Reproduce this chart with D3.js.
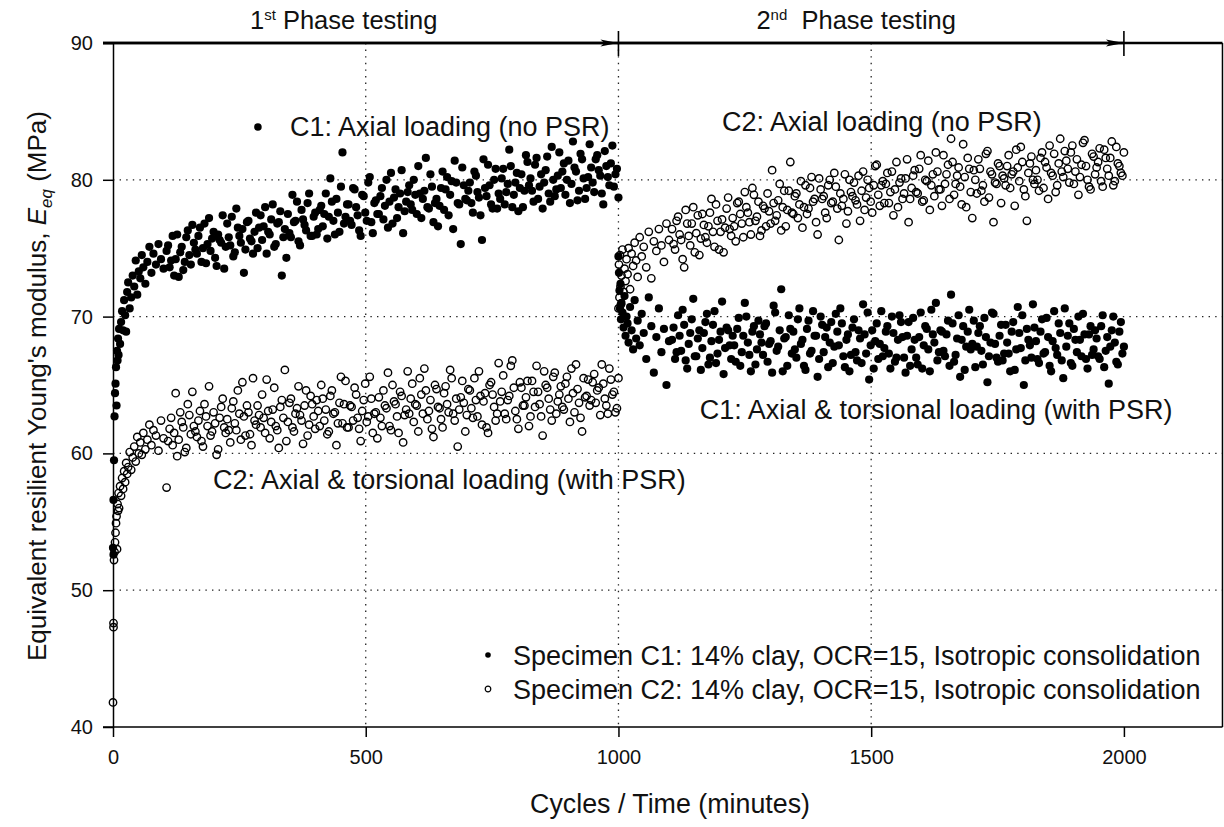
<!DOCTYPE html>
<html>
<head>
<meta charset="utf-8">
<script src="https://cdn.jsdelivr.net/npm/d3@7"></script>
<style>
  body { margin: 0; background: #fff; }
  svg text { font-family: "Liberation Sans", Arial, sans-serif; fill: #111; }
</style>
</head>
<body>
<div class="main"></div>
<script>
//// Data
const xTicks = [0, 500, 1000, 1500, 2000];
const yTicks = [40, 50, 60, 70, 80, 90];
const xGrid = [500, 1000, 1500];
const yGrid = [50, 60, 70, 80];

// sampling cycles (minutes), shared by both specimens in each phase
const cyclesPhase1 = [0,1,1,2,3,4,5,6,7,8, 9,10,11,12,14,16,18,20,22,24,
  26,28,30,33,36,39,42,45,48,51, 54,57,60,64,68,72,76,80,85,90, 95,100,
  106,112,118,124,130,136,142,148,154,160, 166,172,178,184,190,196,202,208,214,220,
  226,232,238,244,250,256,262,268,274,280, 286,292,298,304,310,316,322,328,334,340,
  346,352,358,364,370,376,382,388,394,400, 406,412,418,424,430,436,442,448,454,460,
  466,472,478,484,490,496,502,508,514,520, 526,532,538,544,550,556,562,568,574,580,
  586,592,598,604,610,616,622,628,634,640, 646,652,658,664,670,676,682,688,694,700,
  706,712,718,724,730,736,742,748,754,760, 766,772,778,784,790,796,802,808,814,820,
  826,832,838,844,850,856,862,868,874,880, 886,892,898,904,910,916,922,928,934,940,
  946,952,958,964,970,976,982,988,994,1000];

const cyclesPhase1b = [109,115,121,127,133,139,145,151,157,163, 169,175,181,187,193,199,205,211,217,223,
  229,235,241,247,253,259,265,271,277,283, 289,295,301,307,313,319,325,331,337,343,
  349,355,361,367,373,379,385,391,397,403, 409,415,421,427,433,439,445,451,457,463,
  469,475,481,487,493,499,505,511,517,523, 529,535,541,547,553,559,565,571,577,583,
  589,595,601,607,613,619,625,631,637,643, 649,655,661,667,673,679,685,691,697,703,
  709,715,721,727,733,739,745,751,757,763, 769,775,781,787,793,799,805,811,817,823,
  829,835,841,847,853,859,865,871,877,883, 889,895,901,907,913,919,925,931,937,943,
  949,955,961,967,973,979,985,991,997];

const cyclesPhase2 = [1000,1001,1002,1003,1004,1005,1006,1008,1010,1012,
  1014,1016,1018,1020,1023,1026,1029,1032,1035,1038, 1042,1046,1050,1055,1060,1065,1070,1075,1080,1085,
  1090,1095,1100,
  1106,1112,1118,1124,1130,1136,1142,1148,1154,1160, 1166,1172,1178,1184,1190,1196,1202,1208,1214,1220,
  1226,1232,1238,1244,1250,1256,1262,1268,1274,1280, 1286,1292,1298,1304,1310,1316,1322,1328,1334,1340,
  1346,1352,1358,1364,1370,1376,1382,1388,1394,1400, 1406,1412,1418,1424,1430,1436,1442,1448,1454,1460,
  1466,1472,1478,1484,1490,1496,1502,1508,1514,1520, 1526,1532,1538,1544,1550,1556,1562,1568,1574,1580,
  1586,1592,1598,1604,1610,1616,1622,1628,1634,1640, 1646,1652,1658,1664,1670,1676,1682,1688,1694,1700,
  1706,1712,1718,1724,1730,1736,1742,1748,1754,1760, 1766,1772,1778,1784,1790,1796,1802,1808,1814,1820,
  1826,1832,1838,1844,1850,1856,1862,1868,1874,1880, 1886,1892,1898,1904,1910,1916,1922,1928,1934,1940,
  1946,1952,1958,1964,1970,1976,1982,1988,1994,2000];

const cyclesPhase2b = [1109,1115,1121,1127,1133,1139,1145,1151,1157,1163, 1169,1175,1181,1187,1193,1199,1205,1211,1217,1223,
  1229,1235,1241,1247,1253,1259,1265,1271,1277,1283, 1289,1295,1301,1307,1313,1319,1325,1331,1337,1343,
  1349,1355,1361,1367,1373,1379,1385,1391,1397,1403, 1409,1415,1421,1427,1433,1439,1445,1451,1457,1463,
  1469,1475,1481,1487,1493,1499,1505,1511,1517,1523, 1529,1535,1541,1547,1553,1559,1565,1571,1577,1583,
  1589,1595,1601,1607,1613,1619,1625,1631,1637,1643, 1649,1655,1661,1667,1673,1679,1685,1691,1697,1703,
  1709,1715,1721,1727,1733,1739,1745,1751,1757,1763, 1769,1775,1781,1787,1793,1799,1805,1811,1817,1823,
  1829,1835,1841,1847,1853,1859,1865,1871,1877,1883, 1889,1895,1901,1907,1913,1919,1925,1931,1937,1943,
  1949,1955,1961,1967,1973,1979,1985,1991,1997];

// Specimen C1 (filled): axial loading in phase 1, axial + torsional in phase 2
const c1Phase1 = [53.1,52.6,56.6,59.5,62.7,64.4,65.1,66.3,63.5,67.5, 66.8,68.4,67.2,69.1,68.0,69.6,70.4,69.0,71.2,70.1,
  68.9,71.8,72.5,70.6,71.4,73.0,72.2,74.1,71.6,73.3, 72.8,74.5,73.6,72.4,74.0,75.1,73.2,74.6,73.8,75.3, 74.2,73.5,
  74.8,73.6,75.9,74.2,72.9,75.1,74.0,76.3,73.8,75.4, 74.6,76.5,75.0,73.9,77.2,75.7,74.3,76.0,75.4,73.5,
  76.8,75.2,74.4,77.9,75.9,76.4,74.9,77.0,75.5,76.2, 75.0,77.4,76.6,74.6,76.0,78.2,75.3,76.9,73.0,76.4,
  77.5,75.8,76.9,78.4,75.2,77.1,76.3,79.0,75.9,77.6, 76.4,78.1,77.5,75.7,80.1,77.0,78.6,76.2,82.0,77.3,
  78.2,76.7,79.3,77.4,75.9,78.8,77.0,80.2,76.1,78.5, 77.5,79.4,78.1,76.5,80.5,78.7,77.2,79.0,76.1,78.4,
  79.6,77.8,78.9,81.0,77.2,79.2,78.0,80.4,76.9,78.6, 78.1,80.6,79.3,77.4,79.9,81.4,78.3,75.3,79.6,78.5,
  79.8,77.6,80.3,78.7,75.6,79.4,81.1,78.2,80.0,77.9, 78.6,80.8,79.1,82.2,78.0,79.8,77.7,80.4,79.2,81.3,
  80.1,78.4,81.6,79.5,77.9,80.7,79.0,82.4,78.8,80.3, 79.4,81.2,80.0,78.3,82.8,80.6,79.2,81.5,78.6,80.2,
  80.9,79.1,81.8,80.3,78.2,81.0,79.6,82.5,80.4,78.7];

const c1Phase1b = [75.2,74.1,73.0,76.0,74.7,73.4,75.8,74.5,76.7,74.9, 75.9,74.0,76.8,75.3,74.8,76.2,73.7,75.6,77.4,75.1,
  75.8,77.3,74.7,76.5,75.4,73.2,76.9,75.7,74.6,77.6, 76.5,75.6,78.0,76.2,77.1,75.1,76.8,77.7,75.8,74.3,
  76.1,78.9,77.0,75.5,77.8,76.7,78.3,75.9,77.3,76.0, 77.8,76.6,79.0,77.3,78.4,76.0,77.6,79.5,76.8,78.2,
  77.0,79.4,78.0,76.3,78.9,77.6,79.8,76.9,78.3,77.5, 78.8,77.1,80.0,78.4,76.8,79.3,78.0,80.7,77.7,79.1,
  78.2,80.0,77.5,79.0,78.6,81.6,77.9,79.5,78.3,76.6, 79.4,77.8,80.2,78.9,76.4,79.8,78.2,80.9,78.6,79.2,
  78.3,80.6,79.1,77.4,81.5,78.8,79.6,77.9,80.8,79.0, 80.1,78.2,79.7,81.0,78.9,80.5,79.4,78.0,81.8,79.6,
  79.2,81.1,78.6,80.4,79.8,81.7,78.4,80.0,79.3,82.0, 80.6,78.9,81.4,79.7,80.9,78.5,81.9,80.1,79.4,82.6,
  79.8,81.5,80.7,79.0,82.1,80.2,81.2,79.5,80.8];

const c1Phase2 = [74.4,73.2,71.9,70.6,72.4,69.8,71.0,70.3,69.2,71.5, 68.6,70.0,69.5,68.1,70.7,69.0,67.6,71.2,68.4,69.7,
  67.9,70.2,68.8,66.9,71.4,69.3,65.9,68.5,70.6,67.4, 69.1,65.0,68.2,
  68.3,66.9,70.1,67.5,69.4,66.2,68.8,71.3,67.1,69.0, 67.7,69.6,66.5,68.2,70.4,67.3,68.9,65.8,69.2,67.9,
  68.6,66.7,69.9,67.4,71.0,68.1,66.0,69.3,67.6,68.7, 67.2,69.5,68.0,65.9,70.3,67.8,72.0,68.4,66.4,69.1,
  68.9,67.0,70.6,68.3,66.1,69.7,67.5,68.6,65.6,70.0, 67.4,69.2,68.1,66.6,70.2,67.9,69.5,66.3,68.7,67.2,
  69.8,66.8,68.4,70.9,67.3,65.4,69.0,68.2,66.9,70.4, 67.7,69.3,66.2,68.8,67.0,70.1,68.5,65.9,69.6,67.6,
  68.3,66.5,70.3,67.9,69.1,66.0,68.7,71.0,67.4,68.9, 67.1,69.7,71.6,66.7,68.4,65.6,69.3,67.8,70.5,68.0,
  66.3,68.8,67.5,69.9,65.2,68.1,70.2,67.0,68.6,66.8, 69.4,67.3,68.9,66.1,70.7,67.7,65.0,69.1,67.9,70.9,
  68.2,66.6,69.8,67.4,68.5,66.0,70.4,67.2,68.8,65.5, 67.8,69.5,66.4,68.3,70.0,67.1,68.7,66.2,69.3,67.6,
  68.4,66.9,70.1,67.5,65.1,69.0,68.1,66.5,69.6,67.8];

const c1Phase2b = [69.2,67.4,68.6,70.5,66.8,68.0,69.8,67.1,68.4,66.1, 68.8,70.2,67.0,69.4,66.6,68.3,71.1,67.7,69.0,66.9,
  67.9,69.1,66.4,68.6,70.0,67.2,68.9,66.5,69.7,68.1, 69.3,66.7,68.2,70.8,67.5,69.0,66.0,68.5,70.1,67.3,
  67.6,69.8,68.0,66.4,69.1,67.3,70.4,68.6,66.9,69.4, 68.5,66.3,69.6,67.8,68.9,70.6,67.1,68.3,66.0,69.2,
  67.4,69.0,66.6,68.7,70.3,67.9,66.2,69.5,68.0,67.1, 68.9,67.3,70.0,66.7,68.3,69.6,67.0,68.6,66.4,69.9,
  67.0,68.5,66.2,69.3,67.6,70.5,68.1,66.8,69.0,67.5, 68.7,66.4,69.5,67.2,70.1,68.3,66.1,68.9,67.6,69.7,
  67.8,69.3,66.5,68.5,67.1,70.3,68.0,66.7,69.4,67.3, 68.1,66.0,69.6,67.6,68.8,70.1,66.8,68.3,67.0,69.2,
  66.9,68.9,67.3,69.9,66.4,68.2,67.7,69.5,66.8,70.6, 68.6,66.6,69.1,67.4,68.3,70.2,66.9,68.7,67.2,69.0,
  67.1,69.3,66.3,68.5,67.8,70.0,66.7,68.9,67.3];

// Specimen C2 (open): axial + torsional in phase 1, axial loading in phase 2
const c2Phase1 = [41.8,47.3,47.6,52.2,52.8,53.5,54.2,54.9,55.4,53.0, 56.3,55.8,57.1,56.0,57.6,56.9,58.2,57.4,58.7,57.9,
  59.3,58.5,59.0,60.1,58.8,59.7,60.5,59.4,61.2,60.0, 60.8,59.9,61.5,60.3,61.0,62.1,60.6,61.7,61.3,60.2, 62.4,61.1,
  57.5,61.8,60.6,64.4,61.0,62.3,60.1,63.6,61.4,62.0, 61.2,63.1,60.5,62.7,64.9,61.6,62.2,60.3,63.4,61.9,
  62.5,60.8,63.8,61.7,62.9,65.2,61.3,63.0,60.6,62.4, 63.5,61.9,62.6,65.4,61.1,63.2,62.0,60.4,63.9,66.1,
  62.3,64.0,61.6,63.3,62.8,60.7,64.6,62.1,63.6,61.8, 63.1,65.0,62.4,61.4,64.2,62.9,60.6,63.7,62.2,65.3,
  61.9,63.4,64.8,62.6,60.9,63.9,62.3,65.6,61.5,63.0, 64.1,62.0,63.5,65.9,61.7,63.8,62.7,64.5,60.8,63.2,
  62.9,65.1,63.6,61.6,64.3,66.2,62.5,63.9,61.2,64.7, 63.3,61.9,64.9,63.0,65.5,62.4,60.5,64.1,63.7,62.8,
  64.6,62.6,63.9,66.0,62.1,64.4,61.5,65.2,63.4,62.9, 63.8,65.7,62.5,64.2,66.8,63.1,61.8,64.8,63.5,65.3,
  62.7,64.5,66.4,63.6,61.3,65.0,64.0,62.4,65.9,63.8, 64.9,63.2,65.6,62.3,64.4,66.5,63.7,61.6,64.1,65.4,
  63.9,65.8,64.6,62.8,65.1,63.5,66.2,64.3,63.0,65.5];

const c2Phase1b = [60.9,62.6,61.5,59.8,63.0,61.9,60.4,62.8,64.5,61.6, 62.4,60.9,63.6,62.0,61.3,63.0,59.9,62.6,64.0,61.5,
  61.7,63.3,62.2,64.6,61.0,62.7,63.5,61.4,65.5,62.1, 62.8,64.3,61.5,63.1,62.3,64.8,61.7,63.4,62.6,60.9,
  63.7,61.9,62.9,64.9,62.4,63.5,61.3,64.2,62.7,63.9, 62.0,64.0,63.2,61.6,64.6,63.0,62.2,65.6,63.6,61.9,
  63.5,62.4,64.3,61.8,63.1,65.1,62.7,64.0,62.9,61.1, 62.6,64.6,63.3,62.0,65.0,63.6,61.5,64.2,62.8,66.0,
  64.0,62.3,63.5,65.5,62.9,64.6,63.1,61.8,65.0,63.4, 62.5,64.4,63.6,66.1,62.9,64.0,63.2,65.3,61.6,64.7,
  63.3,65.5,62.7,64.2,63.8,61.9,65.0,64.3,62.4,66.6, 64.5,62.9,63.9,66.4,64.8,62.5,65.2,63.5,64.1,62.0,
  65.3,63.4,64.5,62.7,66.0,64.8,63.2,65.6,62.9,64.3, 63.4,65.1,64.0,66.2,63.0,64.7,62.6,65.5,64.2,63.5,
  65.2,63.7,64.8,66.5,64.0,62.9,65.4,64.5,63.3];

const c2Phase2 = [70.6,73.8,71.4,74.5,72.2,70.9,73.0,74.9,71.8,73.5, 72.6,74.2,73.1,75.0,72.0,74.6,73.7,75.4,74.1,72.9,
  75.8,74.4,75.1,73.6,76.2,72.8,75.5,74.8,76.4,75.2, 74.0,76.8,75.6,
  76.4,74.9,77.3,75.6,73.6,76.8,75.2,78.0,76.1,74.5, 77.5,75.8,76.6,78.6,75.1,77.0,76.2,74.7,77.9,76.4,
  77.2,75.5,78.4,76.8,79.1,77.6,76.0,78.9,77.3,75.9, 78.1,76.6,77.7,80.7,77.0,78.5,76.3,79.2,77.8,81.3,
  77.5,79.0,78.2,76.5,79.6,77.9,80.2,78.6,76.0,79.3, 78.8,77.2,80.0,78.4,79.5,75.6,78.1,80.4,77.7,79.1,
  79.8,78.2,77.0,80.6,78.7,79.4,77.6,81.0,78.9,79.6, 78.3,80.5,79.1,77.4,81.3,79.8,78.6,80.1,76.9,79.4,
  80.7,79.0,81.8,78.5,79.9,77.8,80.4,82.0,79.3,78.1, 79.7,81.1,83.0,78.9,80.3,79.5,82.6,78.0,80.8,77.2,
  80.0,81.5,79.2,78.4,82.1,80.6,76.9,79.7,81.0,80.3, 79.6,81.8,80.4,78.1,80.9,82.4,79.3,77.0,81.2,80.0,
  80.7,79.2,82.0,81.3,78.6,80.5,81.9,79.6,83.0,80.2, 81.4,79.8,82.5,80.6,78.9,81.1,82.9,80.0,79.3,81.7,
  80.9,82.3,79.5,81.6,80.3,82.8,79.9,81.2,80.5,82.0];

const c2Phase2b = [75.3,77.0,76.0,74.2,77.8,75.9,76.8,74.7,77.4,75.7, 76.7,75.4,77.6,76.2,78.2,74.9,77.1,76.5,78.7,75.9,
  76.6,78.3,77.5,75.8,78.0,76.9,79.4,77.0,78.4,76.3, 77.9,79.0,76.8,78.3,77.4,79.7,78.0,76.6,79.2,77.6,
  78.8,77.2,79.9,78.0,77.5,79.4,78.4,76.9,80.1,78.6, 77.6,79.6,78.3,80.5,77.9,79.0,78.6,76.8,80.0,78.8,
  78.5,80.3,79.2,77.8,80.0,78.4,79.6,81.1,78.1,79.9, 79.7,78.3,80.6,79.3,78.0,80.1,79.0,81.5,78.6,80.3,
  79.1,80.8,78.4,80.0,81.4,79.6,78.8,80.6,79.3,81.8, 80.4,78.6,81.3,79.7,80.9,78.2,80.2,81.6,79.1,80.7,
  79.0,80.8,79.6,81.9,78.7,80.4,79.8,81.2,78.3,80.1, 81.0,79.4,80.6,82.2,79.9,81.3,78.8,80.5,81.7,79.7,
  80.0,81.6,79.4,80.9,82.5,80.3,79.1,81.2,80.6,82.1, 80.8,82.0,79.7,81.5,80.2,82.7,81.0,79.5,81.9,80.4,
  81.3,79.9,82.2,80.8,81.6,79.6,82.4,81.0,80.3];

const phases = [
  { ord: '1', sup: 'st', start: 0, end: 1000, shift: -22 },
  { ord: '2', sup: 'nd', start: 1000, end: 2000, shift: -15 }
];

// annotation text: left edge at cycle t, baseline at value v
const notes = [
  { text: 'C1: Axial loading (no PSR)', t: 350, v: 83.2, dot: true },
  { text: 'C2: Axial loading (no PSR)', t: 1205, v: 83.6 },
  { text: 'C1: Axial & torsional loading (with PSR)', t: 1161, v: 62.5 },
  { text: 'C2: Axial & torsional loading (with PSR)', t: 198, v: 57.4 }
];

const legendItems = [
  { text: 'Specimen C1: 14% clay, OCR=15, Isotropic consolidation', filled: true },
  { text: 'Specimen C2: 14% clay, OCR=15, Isotropic consolidation', filled: false }
];

//// Layout
const width = 1224;
const height = 827;
const plotLeft = 113, plotTop = 43, plotBottom = 727;

const svg = d3.select('.main').append('svg')
  .attr('width', width)
  .attr('height', height);

const xScale = d3.scaleLinear().domain([0, 2200]).range([plotLeft, 1225]);
const yScale = d3.scaleLinear().domain([40, 90]).range([plotBottom, plotTop]);
const xRight = xScale(2195);

const zip = (ts, vs) => ts.slice(0, Math.min(ts.length, vs.length)).map((t, i) => [t, vs[i]]);
const c1 = zip(cyclesPhase1, c1Phase1).concat(zip(cyclesPhase1b, c1Phase1b),
  zip(cyclesPhase2, c1Phase2), zip(cyclesPhase2b, c1Phase2b));
const c2 = zip(cyclesPhase1, c2Phase1).concat(zip(cyclesPhase1b, c2Phase1b),
  zip(cyclesPhase2, c2Phase2), zip(cyclesPhase2b, c2Phase2b));

// dotted grid
svg.append('g').selectAll('line').data(yGrid).enter().append('line')
  .attr('x1', plotLeft).attr('x2', xRight)
  .attr('y1', d => yScale(d)).attr('y2', d => yScale(d))
  .attr('stroke', '#222').attr('stroke-width', 1.3).attr('stroke-dasharray', '1.4 5.2');
svg.append('g').selectAll('line').data(xGrid).enter().append('line')
  .attr('x1', d => xScale(d)).attr('x2', d => xScale(d))
  .attr('y1', plotTop).attr('y2', plotBottom)
  .attr('stroke', '#222').attr('stroke-width', 1.3).attr('stroke-dasharray', '1.4 5.2');

// points
svg.append('g').selectAll('circle').data(c1).enter().append('circle')
  .attr('cx', d => xScale(d[0])).attr('cy', d => yScale(d[1]))
  .attr('r', 4.1).attr('fill', '#000');
svg.append('g').selectAll('circle').data(c2).enter().append('circle')
  .attr('cx', d => xScale(d[0])).attr('cy', d => yScale(d[1]))
  .attr('r', 3.7).attr('fill', 'none').attr('stroke', '#000').attr('stroke-width', 1.4);

// frame
svg.append('line').attr('x1', xRight).attr('x2', xRight).attr('y1', plotTop).attr('y2', plotBottom)
  .attr('stroke', '#000').attr('stroke-width', 1.5);
svg.append('line').attr('x1', plotLeft - 10).attr('x2', xRight).attr('y1', plotTop).attr('y2', plotTop)
  .attr('stroke', '#000').attr('stroke-width', 2.6);

// axes
const yAxis = d3.axisLeft(yScale).tickValues(yTicks).tickSize(10).tickPadding(10).tickSizeOuter(0);
const xAxis = d3.axisBottom(xScale).tickValues(xTicks).tickFormat(d3.format('d'))
  .tickSize(10).tickPadding(13).tickSizeOuter(0);

const gy = svg.append('g').attr('transform', `translate(${plotLeft},0)`).call(yAxis);
const gx = svg.append('g').attr('transform', `translate(0,${plotBottom})`).call(xAxis);
gx.select('.domain').attr('d', `M${plotLeft - 10},0H${xRight}`);
[gx, gy].forEach(g => {
  g.selectAll('path, line').attr('stroke', '#000').attr('stroke-width', 1.5);
  g.selectAll('text').attr('font-size', 20).attr('fill', '#111')
    .style('font-family', '"Liberation Sans", Arial, sans-serif');
});

// phase arrows
const defs = svg.append('defs');
defs.append('marker').attr('id', 'arrow')
  .attr('viewBox', '0 0 18 8').attr('refX', 18).attr('refY', 4)
  .attr('markerWidth', 18).attr('markerHeight', 8).attr('markerUnits', 'userSpaceOnUse')
  .attr('orient', 'auto')
  .append('path').attr('d', 'M0,0.5L18,4L0,7.5L4,4Z').attr('fill', '#000');

const ph = svg.append('g').selectAll('g').data(phases).enter().append('g');
ph.append('line')
  .attr('x1', d => xScale(d.start) - (d.start === 0 ? 10 : 0)).attr('x2', d => xScale(d.end))
  .attr('y1', plotTop).attr('y2', plotTop)
  .attr('stroke', '#000').attr('stroke-width', 2.6).attr('marker-end', 'url(#arrow)');
ph.append('line')
  .attr('x1', d => xScale(d.end)).attr('x2', d => xScale(d.end))
  .attr('y1', plotTop - 12).attr('y2', plotTop + 13)
  .attr('stroke', '#000').attr('stroke-width', 1.6);
const phLabel = ph.append('text')
  .attr('x', d => xScale((d.start + d.end) / 2) + d.shift)
  .attr('y', 29)
  .attr('text-anchor', 'middle')
  .attr('font-size', 25.5);
phLabel.append('tspan').text(d => d.ord);
phLabel.append('tspan').attr('dy', -9).attr('font-size', 15).text(d => d.sup);
phLabel.append('tspan').attr('dy', 9).text(d => (d.ord === '2' ? '\u00a0 ' : ' ') + 'Phase testing');

// annotations
const nt = svg.append('g').selectAll('g').data(notes).enter().append('g');
nt.append('text')
  .attr('x', d => xScale(d.t)).attr('y', d => yScale(d.v))
  .attr('text-anchor', 'start')
  .attr('font-size', 27)
  .text(d => d.text);
nt.filter(d => d.dot).append('circle')
  .attr('cx', d => xScale(d.t) - 32).attr('cy', d => yScale(d.v) - 9)
  .attr('r', 3.8).attr('fill', '#000');

// legend
const lg = svg.append('g').selectAll('g').data(legendItems).enter().append('g')
  .attr('transform', (d, i) => `translate(488, ${655 + i * 34})`);
lg.append('circle').attr('r', 2.8)
  .attr('fill', d => d.filled ? '#000' : 'none')
  .attr('stroke', '#000').attr('stroke-width', d => d.filled ? 0 : 1.2);
lg.append('text').attr('x', 25).attr('y', 10).attr('font-size', 27).text(d => d.text);

// axis titles
svg.append('text')
  .attr('x', 670).attr('y', 813)
  .attr('text-anchor', 'middle').attr('font-size', 26.8)
  .text('Cycles / Time (minutes)');

const yt = svg.append('text')
  .attr('transform', `translate(46, 386) rotate(-90)`)
  .attr('text-anchor', 'middle').attr('font-size', 26);
yt.append('tspan').text("Equivalent resilient Young's modulus, ");
yt.append('tspan').attr('font-style', 'italic').text('E');
yt.append('tspan').attr('dy', 6).attr('font-size', 17).attr('font-style', 'italic').text('eq');
yt.append('tspan').attr('dy', -6).text(' (MPa)');
</script>
</body>
</html>
